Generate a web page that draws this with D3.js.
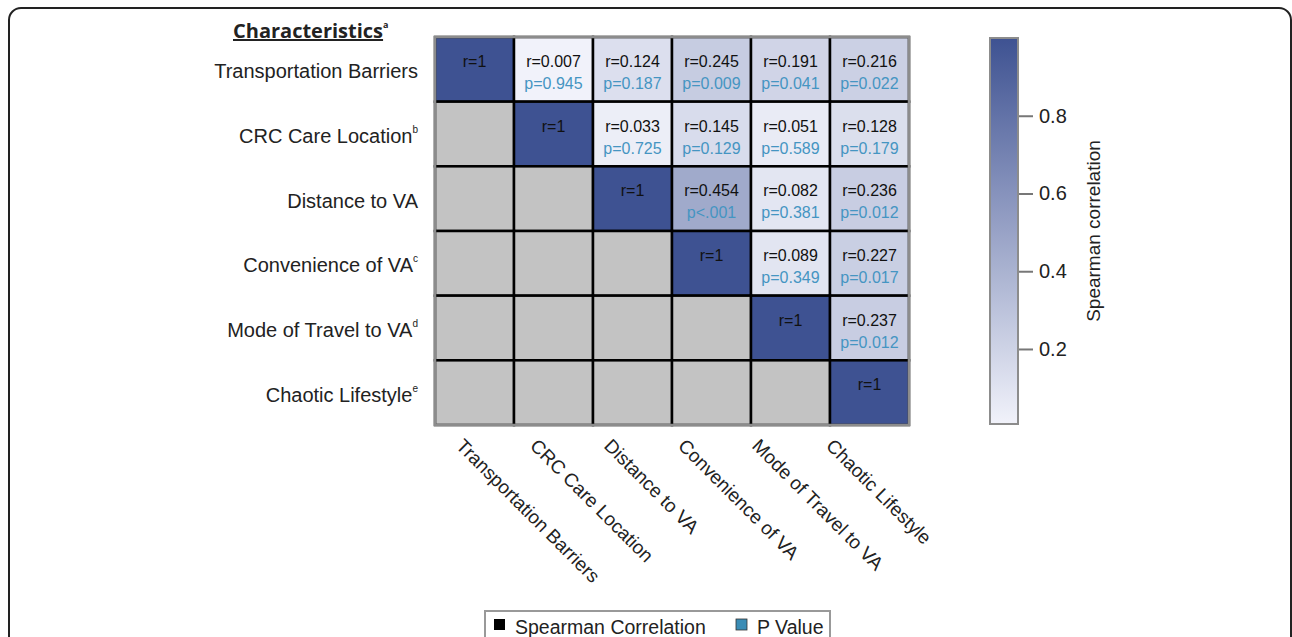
<!DOCTYPE html>
<html>
<head>
<meta charset="utf-8">
<script src="https://cdn.jsdelivr.net/npm/d3@7"></script>
<style>
  html, body { margin: 0; padding: 0; background: #fff; }
  svg { display: block; font-family: Arial, "Liberation Sans", sans-serif; }
</style>
</head>
<body>
<svg id="chart" width="1292" height="637"></svg>
<script>
// characteristics (rows and columns)
const characteristics = ["Transportation Barriers", "CRC Care Location", "Distance to VA",
                         "Convenience of VA", "Mode of Travel to VA", "Chaotic Lifestyle"];
const rowNotes = ["", "b", "", "c", "d", "e"];

// spearman r, upper triangle only (null = lower triangle, greyed out)
const rValues = [
  [1,    0.007, 0.124, 0.245, 0.191, 0.216],
  [null, 1,     0.033, 0.145, 0.051, 0.128],
  [null, null,  1,     0.454, 0.082, 0.236],
  [null, null,  null,  1,     0.089, 0.227],
  [null, null,  null,  null,  1,     0.237],
  [null, null,  null,  null,  null,  1]
];
const pLabels = [
  [null, "p=0.945", "p=0.187", "p=0.009", "p=0.041", "p=0.022"],
  [null, null,      "p=0.725", "p=0.129", "p=0.589", "p=0.179"],
  [null, null,      null,      "p<.001",  "p=0.381", "p=0.012"],
  [null, null,      null,      null,      "p=0.349", "p=0.017"],
  [null, null,      null,      null,      null,      "p=0.012"],
  [null, null,      null,      null,      null,      null]
];
const colorTicks = [0.2, 0.4, 0.6, 0.8];
const legendItems = ["Spearman Correlation", "P Value"];

const svg = d3.select("#chart");
const pColor = "#4595c2";

// outer frame
svg.append("rect")
  .attr("x", 9).attr("y", 8).attr("width", 1282).attr("height", 700)
  .attr("rx", 12)
  .attr("fill", "none").attr("stroke", "#222").attr("stroke-width", 2);

const grid = {left: 435, top: 37, right: 909, bottom: 425};
const x = d3.scaleBand().domain(d3.range(6)).range([grid.left, grid.right]);
const y = d3.scaleBand().domain(d3.range(6)).range([grid.top, grid.bottom]);
const color = d3.scaleLinear().domain([0.007, 1]).range(["#f1f2fa", "#3e5292"]).interpolate(d3.interpolateRgb);

const cells = [];
rValues.forEach((row, i) => row.forEach((v, j) => cells.push({i, j, v, p: pLabels[i][j]})));

const cellG = svg.append("g");
cellG.selectAll("rect")
  .data(cells)
  .join("rect")
  .attr("x", d => x(d.j)).attr("y", d => y(d.i))
  .attr("width", x.bandwidth()).attr("height", y.bandwidth())
  .attr("fill", d => d.v == null ? "#c3c3c3" : color(d.v))
  .attr("stroke", "#000").attr("stroke-width", 2.5);

cellG.append("rect")
  .attr("x", grid.left).attr("y", grid.top)
  .attr("width", grid.right - grid.left).attr("height", grid.bottom - grid.top)
  .attr("fill", "none").attr("stroke", "#8c8c8c").attr("stroke-width", 2.5);

const valued = cells.filter(d => d.v != null);
cellG.selectAll("text.r")
  .data(valued)
  .join("text")
  .attr("class", "r")
  .attr("x", d => x(d.j) + x.bandwidth() / 2)
  .attr("y", d => y(d.i) + 30)
  .attr("text-anchor", "middle")
  .attr("font-size", 16)
  .attr("fill", "#111")
  .text(d => d.v === 1 ? "r=1" : "r=" + d3.format(".3f")(d.v));

cellG.selectAll("text.p")
  .data(valued.filter(d => d.p))
  .join("text")
  .attr("class", "p")
  .attr("x", d => x(d.j) + x.bandwidth() / 2)
  .attr("y", d => y(d.i) + 52)
  .attr("text-anchor", "middle")
  .attr("font-size", 16)
  .attr("fill", pColor)
  .text(d => d.p);

// row labels
const rowLab = svg.append("g").selectAll("text")
  .data(characteristics)
  .join("text")
  .attr("x", 418)
  .attr("y", (d, i) => y(i) + y.bandwidth() / 2 + 9)
  .attr("text-anchor", "end")
  .attr("font-size", 20)
  .attr("fill", "#222");
rowLab.append("tspan").text(d => d);
rowLab.append("tspan")
  .attr("font-size", 10).attr("dy", -10)
  .text((d, i) => rowNotes[i]);

// heading
const head = svg.append("text")
  .attr("x", 233).attr("y", 38)
  .attr("font-family", "'Open Sans', sans-serif")
  .attr("font-weight", "bold").attr("font-size", 20)
  .attr("fill", "#222");
head.append("tspan").attr("text-decoration", "underline").text("Characteristics");
head.append("tspan").attr("font-size", 9).attr("dy", -10).text("a");

// column labels, rotated
const labelX = d3.scalePoint().domain(d3.range(6)).range([grid.left + 20, grid.right - 84]);
svg.append("g").selectAll("text")
  .data(characteristics)
  .join("text")
  .attr("transform", (d, i) => `translate(${labelX(i)},${grid.bottom + 22}) rotate(45)`)
  .attr("font-size", 19)
  .attr("fill", "#222")
  .text(d => d);

// colour bar
const bar = {x: 990, w: 28, top: 38, bottom: 424};
const cy = d3.scaleLinear().domain([0.007, 1]).range([bar.bottom, bar.top]);
const defs = svg.append("defs");
const grad = defs.append("linearGradient").attr("id", "cbar")
  .attr("x1", 0).attr("y1", 1).attr("x2", 0).attr("y2", 0);
d3.range(0, 1.0001, 0.1).forEach(t => {
  grad.append("stop").attr("offset", t).attr("stop-color", color(0.007 + t * (1 - 0.007)));
});
svg.append("rect")
  .attr("x", bar.x).attr("y", bar.top).attr("width", bar.w).attr("height", bar.bottom - bar.top)
  .attr("fill", "url(#cbar)").attr("stroke", "#8c8c8c").attr("stroke-width", 2);

const cAxis = svg.append("g")
  .attr("transform", `translate(${bar.x + bar.w + 1},0)`)
  .call(d3.axisRight(cy).tickValues(colorTicks).tickSize(14).tickPadding(6).tickFormat(d3.format(".1f")));
cAxis.select(".domain").remove();
cAxis.selectAll("line").attr("stroke", "#777").attr("stroke-width", 2);
cAxis.selectAll("text").attr("font-size", 20).attr("fill", "#222").attr("font-family", "Arial, 'Liberation Sans', sans-serif");

svg.append("text")
  .attr("transform", `translate(1100,${(bar.top + bar.bottom) / 2}) rotate(-90)`)
  .attr("text-anchor", "middle")
  .attr("font-size", 19).attr("fill", "#222")
  .text("Spearman correlation");

// legend
const leg = svg.append("g");
leg.append("rect")
  .attr("x", 485).attr("y", 611).attr("width", 345).attr("height", 40)
  .attr("fill", "#fff").attr("stroke", "#999").attr("stroke-width", 2);
const legX = [494, 736];
const legColors = ["#000", "#3a8cb5"];
legendItems.forEach((name, k) => {
  leg.append("rect")
    .attr("x", legX[k]).attr("y", 619).attr("width", 11).attr("height", 11)
    .attr("fill", legColors[k]).attr("stroke", k ? "#333" : "none").attr("stroke-width", 0.8);
  leg.append("text")
    .attr("x", legX[k] + 21).attr("y", 634)
    .attr("font-size", 19.5).attr("fill", "#222")
    .text(name);
});
</script>
</body>
</html>
